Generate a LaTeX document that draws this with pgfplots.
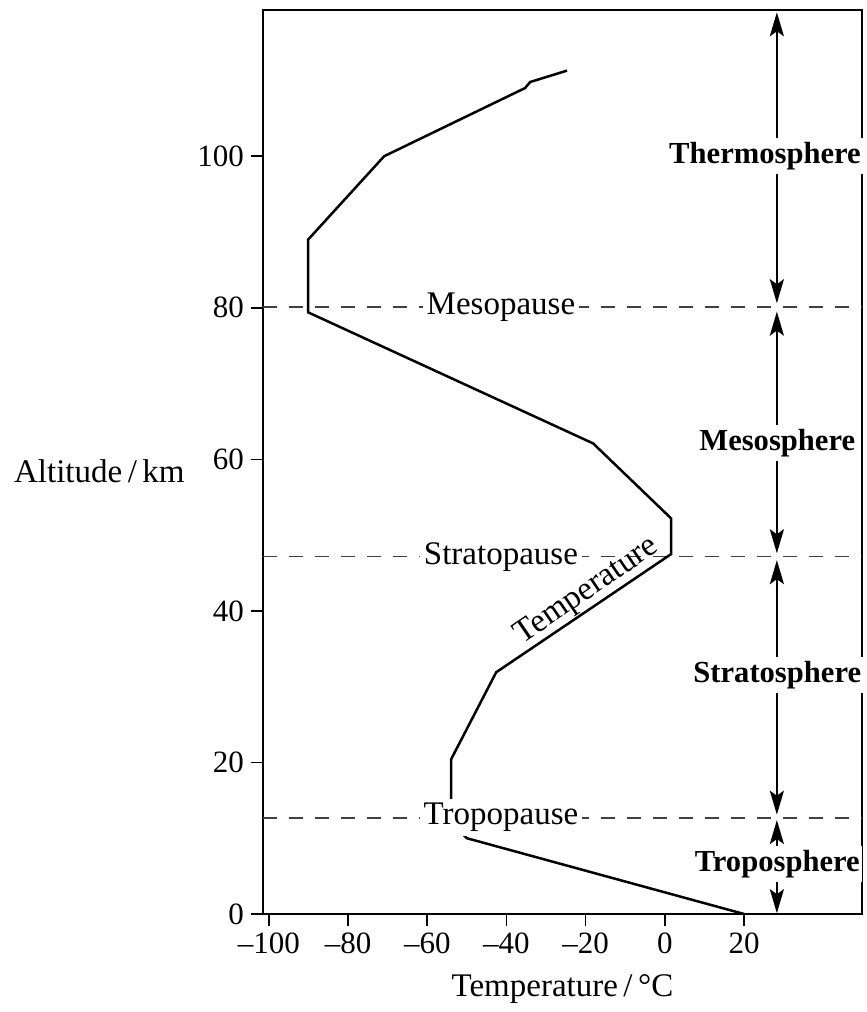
\documentclass[border=0pt]{standalone}
\usepackage{fontspec}
\setmainfont{Liberation Serif}
\usepackage{pgfplots}
\pgfplotsset{compat=1.18}
\usetikzlibrary{arrows.meta}
\newcommand{\lbl}{\fontsize{16.5bp}{19bp}\selectfont}
\newcommand{\tkf}{\fontsize{15.5bp}{18bp}\selectfont}
\newcommand{\bld}{\fontsize{15.3bp}{18bp}\selectfont\bfseries}
\pgfplotstableread{
T h
20 0
-50.0 10.0
-54.0 12.0
-54.0 20.4
-42.6 31.9
1.6 47.5
1.6 52.2
-18.1 62.1
-90.1 79.4
-90.1 89.0
-70.9 100.0
-35.3 109.0
-34.0 109.8
-24.7 111.3
}\temp
\begin{document}
\begin{tikzpicture}
\begin{axis}[name=ax, scale only axis, width=299.5bp, height=452bp,
  xmin=-101.5, xmax=49.8, ymin=0, ymax=119.3,
  axis line style={line width=0.8bp},
  xtick={-100,-80,-60,-40,-20,0,20},
  xticklabels={\textendash100,\textendash80,\textendash60,\textendash40,\textendash20,0,20},
  ytick={0,20,40,60,80,100},
  yticklabels={0,20,40,60,80,100},
  tick align=outside, xtick pos=bottom, ytick pos=left,
  major tick length=6bp, tick style={line width=0.8bp, black},
  ticklabel style={font=\tkf},
  xlabel={Temperature\,/\,°C},
  xlabel style={font=\lbl, at={(axis description cs:0.5,0)}, anchor=base, yshift=-41bp},
  clip=false]
\draw[black!75, line width=0.75bp, dash pattern=on 7bp off 6bp] (axis cs:-101.5,80.1) -- (axis cs:49.8,80.1);
\draw[black!75, line width=0.75bp, dash pattern=on 7bp off 6bp] (axis cs:-101.5,47.2) -- (axis cs:49.8,47.2);
\draw[black!75, line width=0.75bp, dash pattern=on 7bp off 6bp] (axis cs:-101.5,12.7) -- (axis cs:49.8,12.7);
\addplot[black, line width=1.25bp, mark=none] table[x=T, y=h] {\temp};
\tikzset{dbl/.style={line width=1.2bp, {Stealth[length=12bp,width=7bp,inset=2.5bp]}-{Stealth[length=12bp,width=7bp,inset=2.5bp]}}}
\draw[dbl] (axis cs:28.3,119.0) -- (axis cs:28.3,80.6);
\draw[dbl] (axis cs:28.3,79.5) -- (axis cs:28.3,47.6);
\draw[dbl] (axis cs:28.3,46.7) -- (axis cs:28.3,13.1);
\draw[dbl] (axis cs:28.3,12.4) -- (axis cs:28.3,0.1);
\node[font=\lbl, fill=white, inner xsep=2bp, inner ysep=1bp, anchor=base, yshift=-3.5bp] at (axis cs:-41.4,80.1) {Mesopause};
\node[font=\lbl, fill=white, inner xsep=2bp, inner ysep=1bp, anchor=base, yshift=-4bp] at (axis cs:-41.4,47.2) {Stratopause};
\node[font=\lbl, fill=white, inner xsep=2bp, inner ysep=2bp, anchor=base, yshift=-3.5bp] at (axis cs:-41.4,12.7) {Tropopause};
\node[font=\lbl, rotate=34.3, anchor=base, inner sep=0] at (axis cs:-18.6,41.8) {Temperature};
\node[font=\bld, fill=white, inner xsep=1bp, inner ysep=2bp, anchor=base] at (axis cs:25.3,99.1) {Thermosphere};
\node[font=\bld, fill=white, inner xsep=1bp, inner ysep=2bp, anchor=base] at (axis cs:28.4,61.2) {Mesosphere};
\node[font=\bld, fill=white, inner xsep=1bp, inner ysep=2bp, anchor=base] at (axis cs:28.4,30.6) {Stratosphere};
\node[font=\bld, fill=white, inner xsep=1bp, inner ysep=2bp, anchor=base] at (axis cs:28.4,5.6) {Troposphere};
\node[font=\lbl, anchor=base east, inner sep=0, xshift=-39bp] at (axis cs:-101.5,56.9) {Altitude\,/\,km};
\end{axis}
\pgfresetboundingbox
\path (ax.south west) ++(-131.5bp,-49bp) rectangle ++(433.5bp,506bp);
\end{tikzpicture}
\end{document}
